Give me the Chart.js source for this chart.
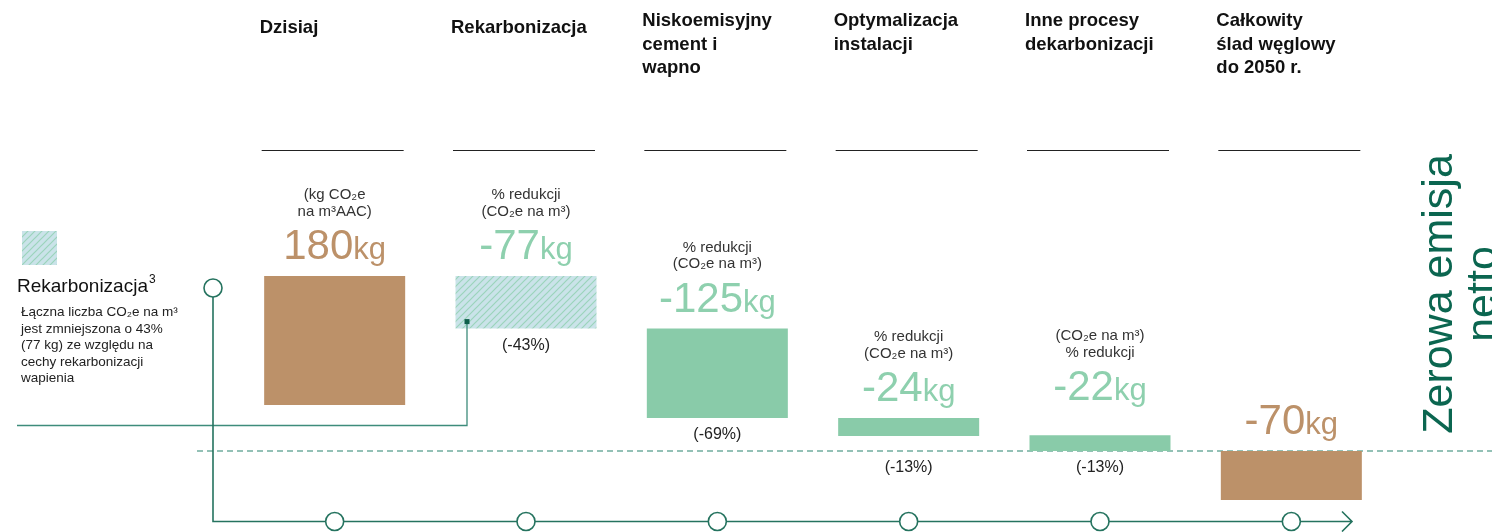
<!DOCTYPE html>
<html>
<head>
<meta charset="utf-8">
<script src="https://cdn.jsdelivr.net/npm/chart.js@4/dist/chart.umd.min.js"></script>
<style>
  html, body { margin: 0; padding: 0; background: #fff; }
  #myChart { display: block; }
</style>
</head>
<body>
<canvas id="myChart" width="1492" height="532"></canvas>
<script>
"use strict";
// data (kg CO2e per m3, bars are floating ranges)
const categories = [
  ["Dzisiaj"],
  ["Rekarbonizacja"],
  ["Niskoemisyjny", "cement i", "wapno"],
  ["Optymalizacja", "instalacji"],
  ["Inne procesy", "dekarbonizacji"],
  ["Całkowity", "ślad węglowy", "do 2050 r."]
];
const barLow = [64, 170, 46, 21, 0, -68];
const barHigh = [243, 243, 170, 46, 22, 0];
const amounts = ["180", "-77", "-125", "-24", "-22", "-70"];
const shares = ["", "(-43%)", "(-69%)", "(-13%)", "(-13%)", ""];
const notes = [
  ["(kg CO₂e", "na m³AAC)"],
  ["% redukcji", "(CO₂e na m³)"],
  ["% redukcji", "(CO₂e na m³)"],
  ["% redukcji", "(CO₂e na m³)"],
  ["(CO₂e na m³)", "% redukcji"],
  []
];
const legendTitle = "Rekarbonizacja";
const legendText = [
  "Łączna liczba CO₂e na m³",
  "jest zmniejszona o 43%",
  "(77 kg) ze względu na",
  "cechy rekarbonizacji",
  "wapienia"
];
const sideText = ["Zerowa emisja", "netto"];

// styling
const BROWN = "#bc9169";
const GREEN = "#89cba9";
const GREEN_TXT = "#8ed0ae";
const TEAL = "#25735f";
const FONT = "'Liberation Sans', Arial, sans-serif";
const labelLift = [0, 0, 0, 0, 18, 0];
const shareDrop = [0, 0, 0, 15, 0, 0];

function hatch() {
  const c = document.createElement("canvas");
  c.width = 7; c.height = 7;
  const g = c.getContext("2d");
  g.fillStyle = "#cae3e9";
  g.fillRect(0, 0, 7, 7);
  g.strokeStyle = "#9bd4bb";
  g.lineWidth = 1.2;
  g.beginPath();
  g.moveTo(-1, 8); g.lineTo(8, -1);
  g.moveTo(-1, 1); g.lineTo(1, -1);
  g.moveTo(6, 8); g.lineTo(8, 6);
  g.stroke();
  return g.createPattern(c, "repeat");
}
const hatchFill = hatch();
const fills = [BROWN, hatchFill, GREEN, GREEN, GREEN, BROWN];
const textFills = [BROWN, GREEN_TXT, GREEN_TXT, GREEN_TXT, GREEN_TXT, BROWN];

function ring(ctx, x, y) {
  ctx.beginPath();
  ctx.arc(x, y, 9, 0, Math.PI * 2);
  ctx.fillStyle = "#fff";
  ctx.fill();
  ctx.stroke();
}

const decor = {
  id: "decor",
  beforeDatasetsDraw(chart) {
    const ctx = chart.ctx;
    const y0 = chart.scales.y.getPixelForValue(0);
    ctx.save();
    ctx.strokeStyle = "#70ad9f";
    ctx.lineWidth = 1.3;
    ctx.setLineDash([6, 4]);
    ctx.beginPath();
    ctx.moveTo(197, y0);
    ctx.lineTo(1492, y0);
    ctx.stroke();
    ctx.restore();
  },
  afterDatasetsDraw(chart) {
    const ctx = chart.ctx;
    const xs = chart.scales.x;
    const meta = chart.getDatasetMeta(0);
    ctx.save();

    // headers with underline
    ctx.fillStyle = "#111";
    ctx.font = "bold 18.5px " + FONT;
    ctx.textAlign = "left";
    ctx.textBaseline = "alphabetic";
    categories.forEach((lines, i) => {
      const cx = xs.getPixelForValue(i) - 2;
      const left = cx - 71;
      lines.forEach((t, j) => {
        const y = lines.length === 1 ? 33 : 26 + j * 23.5;
        ctx.fillText(t, left - 2, y);
      });
      ctx.strokeStyle = "#222";
      ctx.lineWidth = 1;
      ctx.beginPath();
      ctx.moveTo(left, 150.5);
      ctx.lineTo(left + 142, 150.5);
      ctx.stroke();
    });

    // value labels, notes and shares
    meta.data.forEach((bar, i) => {
      const top = Math.min(bar.y, bar.base);
      const bottom = Math.max(bar.y, bar.base);
      const cx = bar.x;
      const base = top - 17 - labelLift[i];
      ctx.font = "42px " + FONT;
      const w1 = ctx.measureText(amounts[i]).width;
      ctx.font = "31px " + FONT;
      const w2 = ctx.measureText("kg").width;
      const sx = cx - (w1 + w2) / 2;
      ctx.fillStyle = textFills[i];
      ctx.textAlign = "left";
      ctx.textBaseline = "alphabetic";
      ctx.font = "42px " + FONT;
      ctx.fillText(amounts[i], sx, base);
      ctx.font = "31px " + FONT;
      ctx.fillText("kg", sx + w1, base);

      ctx.fillStyle = "#333";
      ctx.textAlign = "center";
      ctx.textBaseline = "middle";
      ctx.font = "15px " + FONT;
      notes[i].forEach((t, j) => {
        ctx.fillText(t, cx, base - 64 + j * 16.5);
      });
      if (shares[i]) {
        ctx.font = "16px " + FONT;
        ctx.fillStyle = "#222";
        ctx.fillText(shares[i], cx, bottom + 17 + shareDrop[i]);
      }
    });

    // connector from legend to hatched bar
    const hb = meta.data[1];
    const hx = hb.x - 59;
    const hy = hb.base - 7;
    ctx.strokeStyle = "#3d8c7b";
    ctx.lineWidth = 1.3;
    ctx.beginPath();
    ctx.moveTo(17, 425.5);
    ctx.lineTo(hx, 425.5);
    ctx.lineTo(hx, hy);
    ctx.stroke();
    ctx.fillStyle = "#0f5f4c";
    ctx.fillRect(hx - 2.5, hy - 2.5, 5, 5);

    // timeline
    const ty = 521.5;
    ctx.strokeStyle = TEAL;
    ctx.lineWidth = 1.6;
    ctx.beginPath();
    ctx.moveTo(213, 297);
    ctx.lineTo(213, ty);
    ctx.lineTo(1352, ty);
    ctx.moveTo(1342, ty - 10);
    ctx.lineTo(1352, ty);
    ctx.lineTo(1342, ty + 10);
    ctx.stroke();
    ring(ctx, 213, 288);
    categories.forEach((c, i) => ring(ctx, xs.getPixelForValue(i), ty));

    // legend
    ctx.fillStyle = hatchFill;
    ctx.fillRect(22, 231, 35, 34);
    ctx.fillStyle = "#111";
    ctx.textAlign = "left";
    ctx.textBaseline = "alphabetic";
    ctx.font = "19px " + FONT;
    ctx.fillText(legendTitle, 17, 292);
    const tw = ctx.measureText(legendTitle).width;
    ctx.font = "12px " + FONT;
    ctx.fillText("3", 17 + tw + 1, 283);
    ctx.font = "13.5px " + FONT;
    ctx.fillStyle = "#222";
    legendText.forEach((t, j) => ctx.fillText(t, 21, 316 + j * 16.5));

    // rotated side title
    ctx.translate(1452, 294);
    ctx.rotate(-Math.PI / 2);
    ctx.fillStyle = "#0b6650";
    ctx.font = "43px " + FONT;
    ctx.textAlign = "center";
    ctx.fillText(sideText[0], 0, 0);
    ctx.fillText(sideText[1], 0, 44);
    ctx.restore();
  }
};

const ctx = document.getElementById("myChart").getContext("2d");
const chart = new Chart(ctx, {
  type: "bar",
  data: {
    labels: categories.map(c => c.join(" ")),
    datasets: [
      {
        data: barLow.map((lo, i) => [lo, barHigh[i]]),
        backgroundColor: fills,
        borderWidth: 0,
        barPercentage: 0.737,
        categoryPercentage: 1
      }
    ]
  },
  options: {
    responsive: false,
    animation: false,
    devicePixelRatio: 1,
    layout: { padding: { left: 239, right: 105, top: 0, bottom: 0 } },
    plugins: { legend: { display: false }, tooltip: { enabled: false } },
    scales: {
      x: { display: false },
      y: { display: false, min: -112.5, max: 626.4 }
    }
  },
  plugins: [decor]
});
</script>
</body>
</html>
